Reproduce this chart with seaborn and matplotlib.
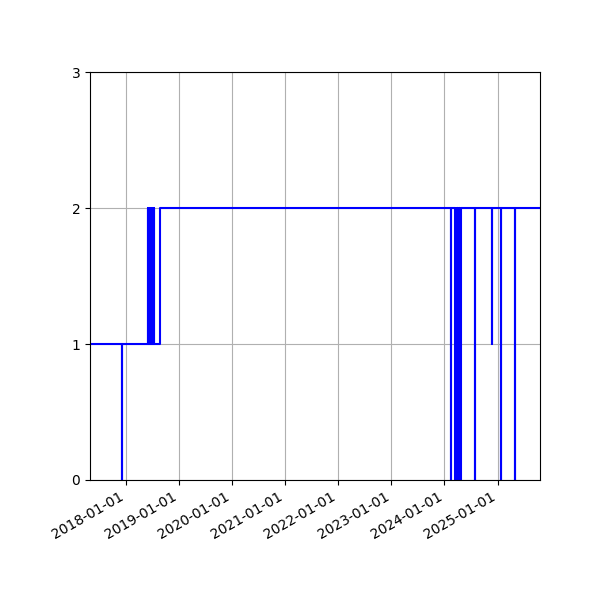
import pandas as pd
import matplotlib
matplotlib.use("Agg")
import matplotlib.pyplot as plt
import matplotlib.dates as mdates
import seaborn as sns

# change points of the step series (value holds until the next date)
dates = [
    "2017-04-30", "2017-12-04", "2017-12-09",
    "2018-06-01", "2018-06-05", "2018-06-08", "2018-06-12", "2018-06-15",
    "2018-06-19", "2018-06-22", "2018-06-26", "2018-06-29", "2018-07-03",
    "2018-07-06", "2018-07-10", "2018-07-13", "2018-07-15", "2018-08-25",
    "2024-02-15", "2024-02-18",
    "2024-03-16", "2024-03-19", "2024-03-21", "2024-03-24", "2024-03-26",
    "2024-03-29", "2024-03-31", "2024-04-03", "2024-04-05", "2024-04-08",
    "2024-04-10", "2024-04-13", "2024-04-15", "2024-04-18", "2024-04-19",
    "2024-04-21", "2024-04-27",
    "2024-07-28", "2024-07-30",
    "2024-11-22", "2024-11-24",
    "2025-01-23", "2025-01-26",
    "2025-04-29", "2025-05-01",
    "2025-10-19",
]
values = [
    1, 0, 1,
    2, 1, 2, 1, 2,
    1, 2, 1, 2, 1,
    2, 1, 2, 1, 2,
    0, 2,
    0, 2, 0, 1, 0,
    2, 0, 2, 0, 1,
    0, 2, 0, 2, 0,
    1, 2,
    0, 2,
    1, 2,
    0, 2,
    0, 2,
    2,
]

df = pd.DataFrame({"date": pd.to_datetime(dates), "value": values})

fig, ax = plt.subplots(figsize=(6, 6), dpi=100)
sns.lineplot(x="date", y="value", data=df, ax=ax, color="blue",
             linewidth=1.5, drawstyle="steps-post")

ax.set_xlim(df["date"].iloc[0], df["date"].iloc[-1])
ax.set_ylim(0, 3)
ax.set_yticks([0, 1, 2, 3])
ax.xaxis.set_major_locator(mdates.YearLocator())
ax.xaxis.set_major_formatter(mdates.DateFormatter("%Y-%m-%d"))
ax.set_xlabel("")
ax.set_ylabel("")
ax.grid(True)
fig.autofmt_xdate()
fig.subplots_adjust(left=0.15, right=0.9, top=0.88, bottom=0.2)

plt.savefig("out.png")
